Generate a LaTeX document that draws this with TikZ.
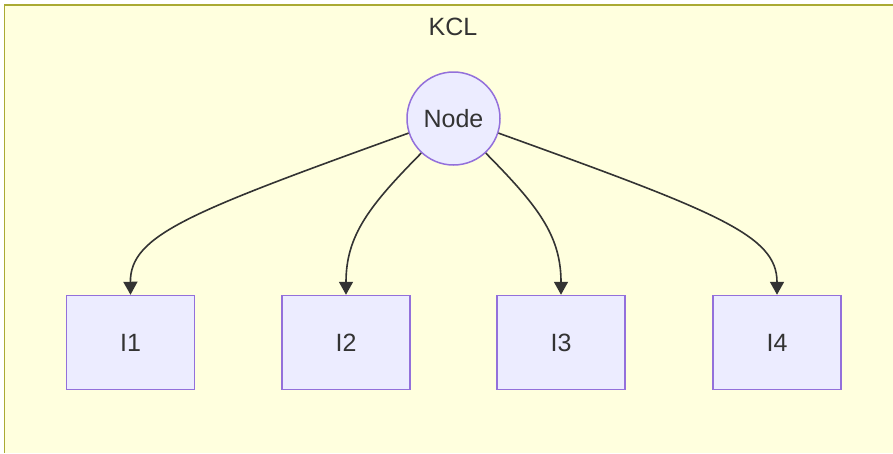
\documentclass[tikz,border=0pt]{standalone}
\usepackage{fontspec}
\setmainfont{Liberation Sans}
\usepackage{xcolor}
\usepackage{tikz}
\usetikzlibrary{shapes,arrows.meta,positioning,calc}
\definecolor{clusterfill}{HTML}{FFFFDE}
\definecolor{clusterline}{HTML}{AAAA33}
\definecolor{boxfill}{HTML}{ECECFF}
\definecolor{boxline}{HTML}{9370DB}
\definecolor{ink}{HTML}{333333}
\tikzstyle{junction} = [circle, draw=boxline, fill=boxfill, line width=1.5pt, minimum size=93pt, inner sep=0pt, text=ink, font=\fontsize{25}{30}\selectfont]
\tikzstyle{branch} = [rectangle, draw=boxline, fill=boxfill, line width=1.5pt, minimum width=128pt, minimum height=94pt, text=ink, font=\fontsize{25}{30}\selectfont]
\tikzstyle{current} = [draw=ink, line width=1.6pt, -{Triangle[length=13pt,width=14pt]}]

\begin{document}
\begin{tikzpicture}[x=1pt,y=-1pt]
    \useasboundingbox (0,0) rectangle (893,453);
    % cluster
    \fill[clusterfill] (4.5,5) rectangle (893,453);
    \draw[clusterline, line width=1.5pt] (893,5) -- (4.5,5) -- (4.5,453);
    \node[text=ink, font=\fontsize{25}{30}\selectfont] (title) at (453,27) {KCL};
    \node[junction] (n) at (453.5,118.5) {Node};
    \node[branch] (i1) at (130.5,342.5) {I1};
    \node[branch] (i2) at (346,342.5) {I2};
    \node[branch] (i3) at (561,342.5) {I3};
    \node[branch] (i4) at (777,342.5) {I4};
    \draw[current] (n.198) .. controls (190,212) and (130,235) .. (i1.north);
    \draw[current] (n.227) .. controls (370,205) and (346,235) .. (i2.north);
    \draw[current] (n.313) .. controls (537,205) and (561,235) .. (i3.north);
    \draw[current] (n.342) .. controls (717,212) and (777,235) .. (i4.north);
\end{tikzpicture}
\end{document}
